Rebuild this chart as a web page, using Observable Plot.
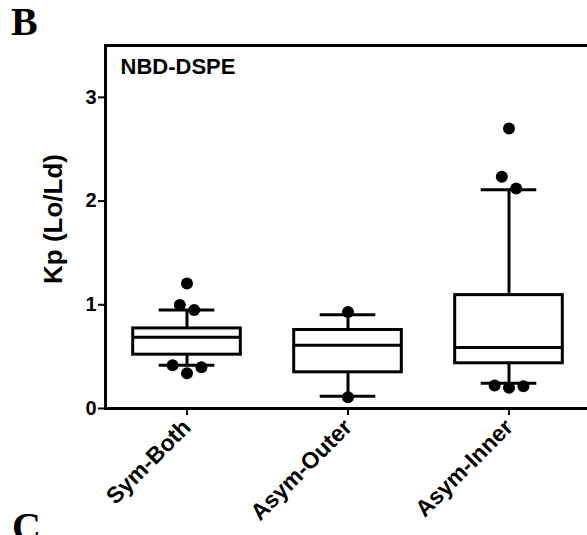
<!DOCTYPE html>
<html>
<head>
<meta charset="utf-8">
<script src="https://cdn.jsdelivr.net/npm/d3@7"></script>
<script src="https://cdn.jsdelivr.net/npm/@observablehq/plot@0.6"></script>
<style>
  body { margin: 0; background: #fff; }
  #wrap { position: relative; width: 587px; height: 535px; overflow: hidden; }
  .panel { position: absolute; font-family: "Liberation Serif", "DejaVu Serif", serif; font-weight: bold; font-size: 40px; line-height: 0.9; color: #000; }
  #ylabel { position: absolute; left: 53px; top: 219px; transform: translate(-50%, -50%) rotate(-90deg); white-space: nowrap;
            font-family: "Liberation Sans", Arial, sans-serif; font-weight: bold; font-size: 26px; line-height: 1; color: #000; }
</style>
</head>
<body>
<div id="wrap">
  <div class="panel" style="left:11px; top:4px;">B</div>
  <div class="panel" style="left:12px; top:509px;">C</div>
  <div id="ylabel">Kp (Lo/Ld)</div>
</div>
<script>
const categories = ["Sym-Both", "Asym-Outer", "Asym-Inner"];
const q1 = [0.519, 0.349, 0.436];
const median = [0.686, 0.609, 0.587];
const q3 = [0.772, 0.757, 1.093];
const whiskerLow = [0.417, 0.118, 0.243];
const whiskerHigh = [0.949, 0.904, 2.108];

const pointGroup = ["Sym-Both","Sym-Both","Sym-Both","Sym-Both","Sym-Both","Sym-Both",
                    "Asym-Outer","Asym-Outer",
                    "Asym-Inner","Asym-Inner","Asym-Inner","Asym-Inner","Asym-Inner","Asym-Inner"];
const pointValue = [1.205, 0.997, 0.949, 0.417, 0.340, 0.397,
                    0.930, 0.109,
                    2.699, 2.234, 2.122, 0.221, 0.199, 0.214];
const pointSlot  = [0, -1, 1, -2, 0, 2,
                    0, 0,
                    0, -1, 1, -2, 0, 2];

const yTicks = [0, 1, 2, 3];

const boxes = categories.map((c, i) => ({cat: c, q1: q1[i], med: median[i], q3: q3[i], lo: whiskerLow[i], hi: whiskerHigh[i]}));
const points = pointValue.map((v, i) => ({cat: pointGroup[i], v, slot: pointSlot[i]}));

const font = "'Liberation Sans', Arial, sans-serif";
const sw = 3;
const boxInset = 26.7;
const capInset = 52.7;
const slotPx = 7.2;

const slots = [-2, -1, 0, 1, 2];

const chart = Plot.plot({
  width: 587,
  height: 535,
  marginLeft: 105,
  marginRight: -2,
  marginTop: 45,
  marginBottom: 127,
  style: {fontFamily: font, fontWeight: "bold", fontSize: "20px", color: "#000", background: "transparent", overflow: "visible"},
  x: {type: "band", domain: categories, padding: 0, label: null},
  y: {domain: [0, 3.5], label: null},
  marks: [
    Plot.ruleY([3.5], {stroke: "#000", strokeWidth: sw}),
    Plot.frame({anchor: "left", stroke: "#000", strokeWidth: sw}),
    Plot.frame({anchor: "bottom", stroke: "#000", strokeWidth: sw}),
    Plot.axisY({ticks: yTicks, tickSize: 7, tickPadding: 2, tickFormat: d3.format("d"), strokeWidth: 2, fontSize: 20, fontWeight: "bold", label: null}),
    Plot.axisX({tickSize: 7, tickPadding: 8, tickRotate: -45, strokeWidth: 2, fontSize: 23, fontWeight: "bold", label: null}),
    Plot.ruleX(boxes, {x: "cat", y1: "lo", y2: "q1", stroke: "#000", strokeWidth: sw}),
    Plot.ruleX(boxes, {x: "cat", y1: "q3", y2: "hi", stroke: "#000", strokeWidth: sw}),
    Plot.tickY(boxes, {x: "cat", y: "lo", stroke: "#000", strokeWidth: sw, insetLeft: capInset, insetRight: capInset}),
    Plot.tickY(boxes, {x: "cat", y: "hi", stroke: "#000", strokeWidth: sw, insetLeft: capInset, insetRight: capInset}),
    Plot.barY(boxes, {x: "cat", y1: "q1", y2: "q3", fill: "#fff", stroke: "#000", strokeWidth: sw, insetLeft: boxInset, insetRight: boxInset}),
    Plot.tickY(boxes, {x: "cat", y: "med", stroke: "#000", strokeWidth: sw, insetLeft: boxInset, insetRight: boxInset}),
    ...slots.map(s => Plot.dot(points.filter(p => p.slot === s), {x: "cat", y: "v", r: 6, fill: "#000", stroke: "none", dx: s * slotPx})),
    Plot.text(["NBD-DSPE"], {frameAnchor: "top-left", textAnchor: "start", lineAnchor: "top", dx: 15, dy: 13, fontSize: 22, fontWeight: "bold", fill: "#000"})
  ]
});
chart.style.position = "absolute";
chart.style.left = "0px";
chart.style.top = "0px";
document.getElementById("wrap").prepend(chart);
</script>
</body>
</html>
